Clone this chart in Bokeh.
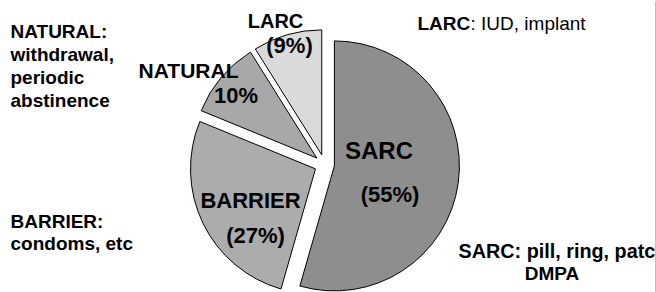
import math
from bokeh.plotting import figure
from bokeh.models import Range1d, ColumnDataSource
from bokeh.embed import file_html
from bokeh.resources import INLINE
from bokeh.core.properties import value

# ---- data ----
categories = ["SARC", "BARRIER", "NATURAL", "LARC"]
shares = [55, 27, 10, 9]
slice_pcts = ["(55%)", "(27%)", "10%", "(9%)"]
colors = ["#8e8e8e", "#acacac", "#a8a8a8", "#dadada"]

natural_desc = ["NATURAL:", "withdrawal,", "periodic", "abstinence"]
barrier_desc = ["BARRIER:", "condoms, etc"]
larc_desc_bold = "LARC"
larc_desc_rest = ": IUD, implant"
sarc_desc = ["SARC: pill, ring, patch,", "DMPA"]

# ---- layout (reference pixel coordinates) ----
W, H = 656, 292
FONT = value("Liberation Sans")
CX, CY, R, EXPLODE = 324, 164, 125, 10


def sy(y):
    return H - y


def put(x, base, texts, size, bold=True, align="left"):
    """place text with its alphabetic baseline at screen y=base (via middle anchor)"""
    n = len(texts)
    p.text(x=[x] * n if not isinstance(x, list) else x,
           y=[sy(b - 0.35 * size) for b in base], text=texts, text_font=FONT,
           text_font_style="bold" if bold else "normal", text_font_size=f"{size}px",
           text_align=align, text_baseline="middle", text_color="black")


p = figure(width=W, height=H, output_backend="svg", toolbar_location=None,
           x_range=Range1d(0, W), y_range=Range1d(0, H), min_border=0,
           x_axis_location=None, y_axis_location=None)
p.grid.visible = False
p.outline_line_color = None
p.background_fill_color = "white"
p.border_fill_color = "white"

total = float(sum(shares))
xs, ys, starts, ends = [], [], [], []
cum = 0.0
for v in shares:
    t1 = 360.0 * cum / total
    cum += v
    t2 = 360.0 * cum / total
    bis = math.radians(90 - (t1 + t2) / 2)
    xs.append(CX + EXPLODE * math.cos(bis))
    ys.append(sy(CY) + EXPLODE * math.sin(bis))
    starts.append(math.radians(90 - t2))
    ends.append(math.radians(90 - t1))

src = ColumnDataSource(dict(x=xs, y=ys, start=starts, end=ends, color=colors, cat=categories))
p.wedge(x="x", y="y", radius=R, start_angle="start", end_angle="end", direction="anticlock",
        fill_color="color", line_color="black", line_width=1, source=src)

# slice labels
name_pos = [(378.5, 158, 24), (250, 208, 22), (188, 77, 21), (275, 27, 20)]
pct_pos = [(389.5, 202, 22), (255, 243, 22), (235.5, 103, 22), (289, 53, 22)]
for (x, y, fs), t in zip(name_pos, categories):
    put(x, [y], [t], fs, align="center")
for (x, y, fs), t in zip(pct_pos, slice_pcts):
    put(x, [y], [t], fs, align="center")

# descriptions
put(10, [38, 61, 84, 106.5], natural_desc, 19)
put(10, [228, 250], barrier_desc, 19)
put(417, [30], [larc_desc_bold], 19)
put(470, [30], [larc_desc_rest], 19, bold=False)
put(458, [257], [sarc_desc[0]], 19.8)
put(551.5, [280], [sarc_desc[1]], 19, align="center")

# right border of the original image
p.segment(x0=[655.5], y0=[0], x1=[655.5], y1=[H], line_color="#808080", line_width=1)

open("out.html", "w").write(file_html(p, INLINE))
